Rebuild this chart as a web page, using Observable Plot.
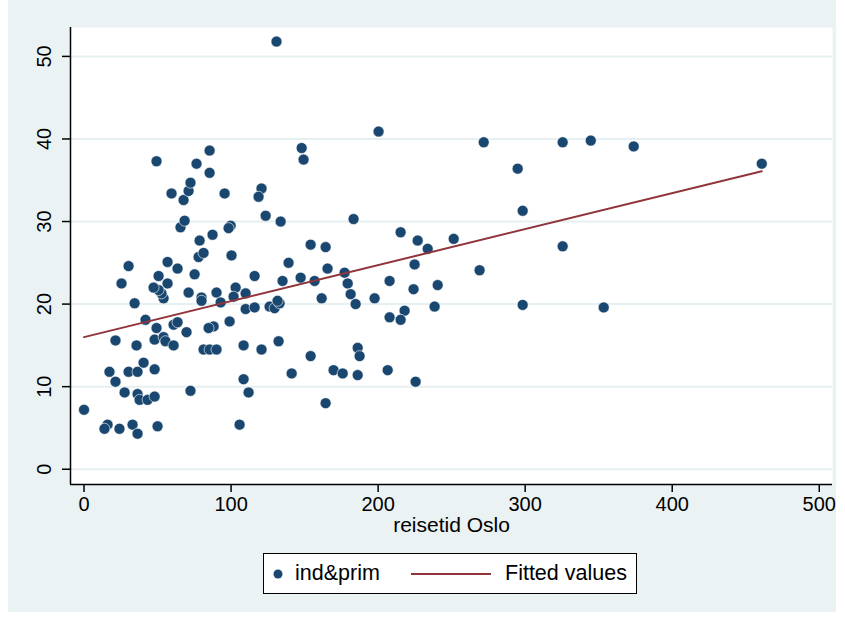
<!DOCTYPE html>
<html>
<head>
<meta charset="utf-8">
<script src="https://cdn.jsdelivr.net/npm/d3@7"></script>
<script src="https://cdn.jsdelivr.net/npm/@observablehq/plot@0.6"></script>
<style>
  html, body { margin: 0; padding: 0; background: #ffffff; }
  #wrap { position: relative; width: 845px; height: 617px; overflow: hidden; font-family: "Liberation Sans", Arial, sans-serif; }
  #bg { position: absolute; left: 8px; top: 0px; width: 828px; height: 612px; background: #EAF2F3; }
  #chart { position: absolute; left: 0; top: 0; }
  #legend { position: absolute; left: 263px; top: 553px; width: 372px; height: 39px; background: #ffffff; border: 1.5px solid #000; box-sizing: content-box; }
  #legend .item { position: absolute; top: 0; height: 39px; line-height: 39px; font-size: 21.5px; color: #000; white-space: nowrap; }
</style>
</head>
<body>
<div id="wrap">
  <div id="bg"></div>
  <div id="chart"></div>
  <div id="legend">
    <svg style="position:absolute;left:8px;top:13px" width="14" height="14"><circle cx="6" cy="7" r="4.5" fill="#1A476F"></circle></svg>
    <div class="item" style="left:31px">ind&amp;prim</div>
    <svg style="position:absolute;left:147px;top:18px" width="82" height="4"><line x1="0" y1="2" x2="80" y2="2" stroke="#90353B" stroke-width="2"></line></svg>
    <div class="item" style="left:241px">Fitted values</div>
  </div>
</div>
<script>
// reisetid Oslo (x) and ind&prim (y)
const reisetid = [
  0, 16.0, 13.9, 24.1, 33.0, 36.4, 50.0, 17.3, 30.3, 36.4,
  48.0, 40.5, 21.4, 27.6, 36.4, 37.8, 43.2, 48.0, 72.4, 21.4,
  35.7, 48.0, 54.1, 55.4, 60.9, 41.8, 49.3, 60.9, 63.6, 69.7,
  34.4, 54.1, 52.7, 50.7, 47.3, 56.8, 25.5, 30.3, 50.7, 56.8,
  63.6, 71.1, 75.2, 77.9, 81.3, 78.6, 87.4, 65.6, 68.4, 67.7,
  71.1, 72.4, 59.5, 49.3, 76.5, 85.4, 85.4, 95.6, 100.3, 99.7,
  98.3, 79.9, 79.9, 90.1, 92.9, 103.1, 101.7, 109.9, 116.0, 109.9,
  116.0, 99.0, 88.1, 84.7, 81.3, 85.4, 90.1, 108.5, 120.7, 132.3,
  108.5, 111.9, 105.8, 120.7, 118.7, 123.5, 133.7, 139.1, 135.0, 147.3,
  126.2, 129.6, 133.0, 131.6, 141.2, 130.9, 200.3, 148.0, 149.3, 183.3,
  215.3, 226.9, 233.7, 154.1, 164.3, 165.6, 224.8, 156.8, 177.2, 179.3,
  207.8, 240.5, 181.3, 161.6, 184.7, 197.6, 224.1, 238.4, 218.0, 207.8,
  215.3, 154.1, 169.7, 175.9, 186.1, 187.4, 186.1, 206.5, 225.5, 164.3,
  271.8, 325.5, 344.6, 373.8, 460.9, 294.9, 298.3, 251.4, 325.5, 269.0,
  298.3, 353.4
];
const indprim = [
  7.2, 5.4, 4.9, 4.9, 5.4, 4.3, 5.2, 11.8, 11.8, 11.8,
  12.1, 12.9, 10.6, 9.3, 9.1, 8.4, 8.4, 8.8, 9.5, 15.6,
  15.0, 15.7, 16.0, 15.5, 15.0, 18.1, 17.1, 17.5, 17.8, 16.6,
  20.1, 20.7, 21.3, 21.7, 22.0, 22.5, 22.5, 24.6, 23.4, 25.1,
  24.3, 21.4, 23.6, 25.7, 26.2, 27.7, 28.4, 29.3, 30.1, 32.6,
  33.7, 34.7, 33.4, 37.3, 37.0, 38.6, 35.9, 33.4, 25.9, 29.5,
  29.2, 20.8, 20.4, 21.4, 20.2, 22.0, 20.9, 21.3, 23.4, 19.4,
  19.6, 17.9, 17.3, 17.1, 14.5, 14.5, 14.5, 15.0, 14.5, 15.5,
  10.9, 9.3, 5.4, 34.0, 33.0, 30.7, 30.0, 25.0, 22.8, 23.2,
  19.7, 19.5, 20.1, 20.4, 11.6, 51.8, 40.9, 38.9, 37.5, 30.3,
  28.7, 27.7, 26.7, 27.2, 26.9, 24.3, 24.8, 22.8, 23.8, 22.5,
  22.8, 22.3, 21.2, 20.7, 20.0, 20.7, 21.8, 19.7, 19.2, 18.4,
  18.1, 13.7, 12.0, 11.6, 14.7, 13.7, 11.4, 12.0, 10.6, 8.0,
  39.6, 39.6, 39.8, 39.1, 37.0, 36.4, 31.3, 27.9, 27.0, 24.1,
  19.9, 19.6
];
// Fitted values line (end points)
const fitX = [0, 460.9];
const fitY = [16.0, 36.1];
const xTicks = [0, 100, 200, 300, 400, 500];
const yTicks = [0, 10, 20, 30, 40, 50];
const xDomain = [-9.2, 509];
const yDomain = [-1.85, 53.5];

const points = reisetid.map((x, i) => ({x, y: indprim[i]}));
const fit = fitX.map((x, i) => ({x, y: fitY[i]}));

const chart = Plot.plot({
  width: 845,
  height: 617,
  marginLeft: 70,
  marginRight: 13,
  marginTop: 27,
  marginBottom: 133,
  style: {background: "transparent", fontFamily: "'Liberation Sans', Arial, sans-serif", fontSize: "20px", color: "#000"},
  x: {domain: xDomain},
  y: {domain: yDomain},
  marks: [
    Plot.frame({fill: "white", stroke: null}),
    Plot.ruleY(yTicks, {stroke: "#E6EFF1", strokeWidth: 2}),
    Plot.axisX({ticks: xTicks, tickSize: 8, tickPadding: 4, label: null, fontSize: 20, stroke: "#000", strokeWidth: 1.5}),
    Plot.axisY({ticks: yTicks, tickSize: 8, tickPadding: 12, tickRotate: -90, label: null, fontSize: 20, stroke: "#000", strokeWidth: 1.5}),
    Plot.text(["reisetid Oslo"], {frameAnchor: "bottom", dy: 41, lineAnchor: "middle", fontSize: 21}),
    Plot.ruleX([xDomain[0]], {stroke: "#000", strokeWidth: 1.5}),
    Plot.ruleY([yDomain[0]], {stroke: "#000", strokeWidth: 1.5}),
    Plot.dot(points, {x: "x", y: "y", r: 5.5, fill: "#1A476F", stroke: "#ffffff", strokeWidth: 0.6}),
    Plot.line(fit, {x: "x", y: "y", stroke: "#90353B", strokeWidth: 2})
  ]
});
document.getElementById("chart").appendChild(chart);
</script>
</body>
</html>
